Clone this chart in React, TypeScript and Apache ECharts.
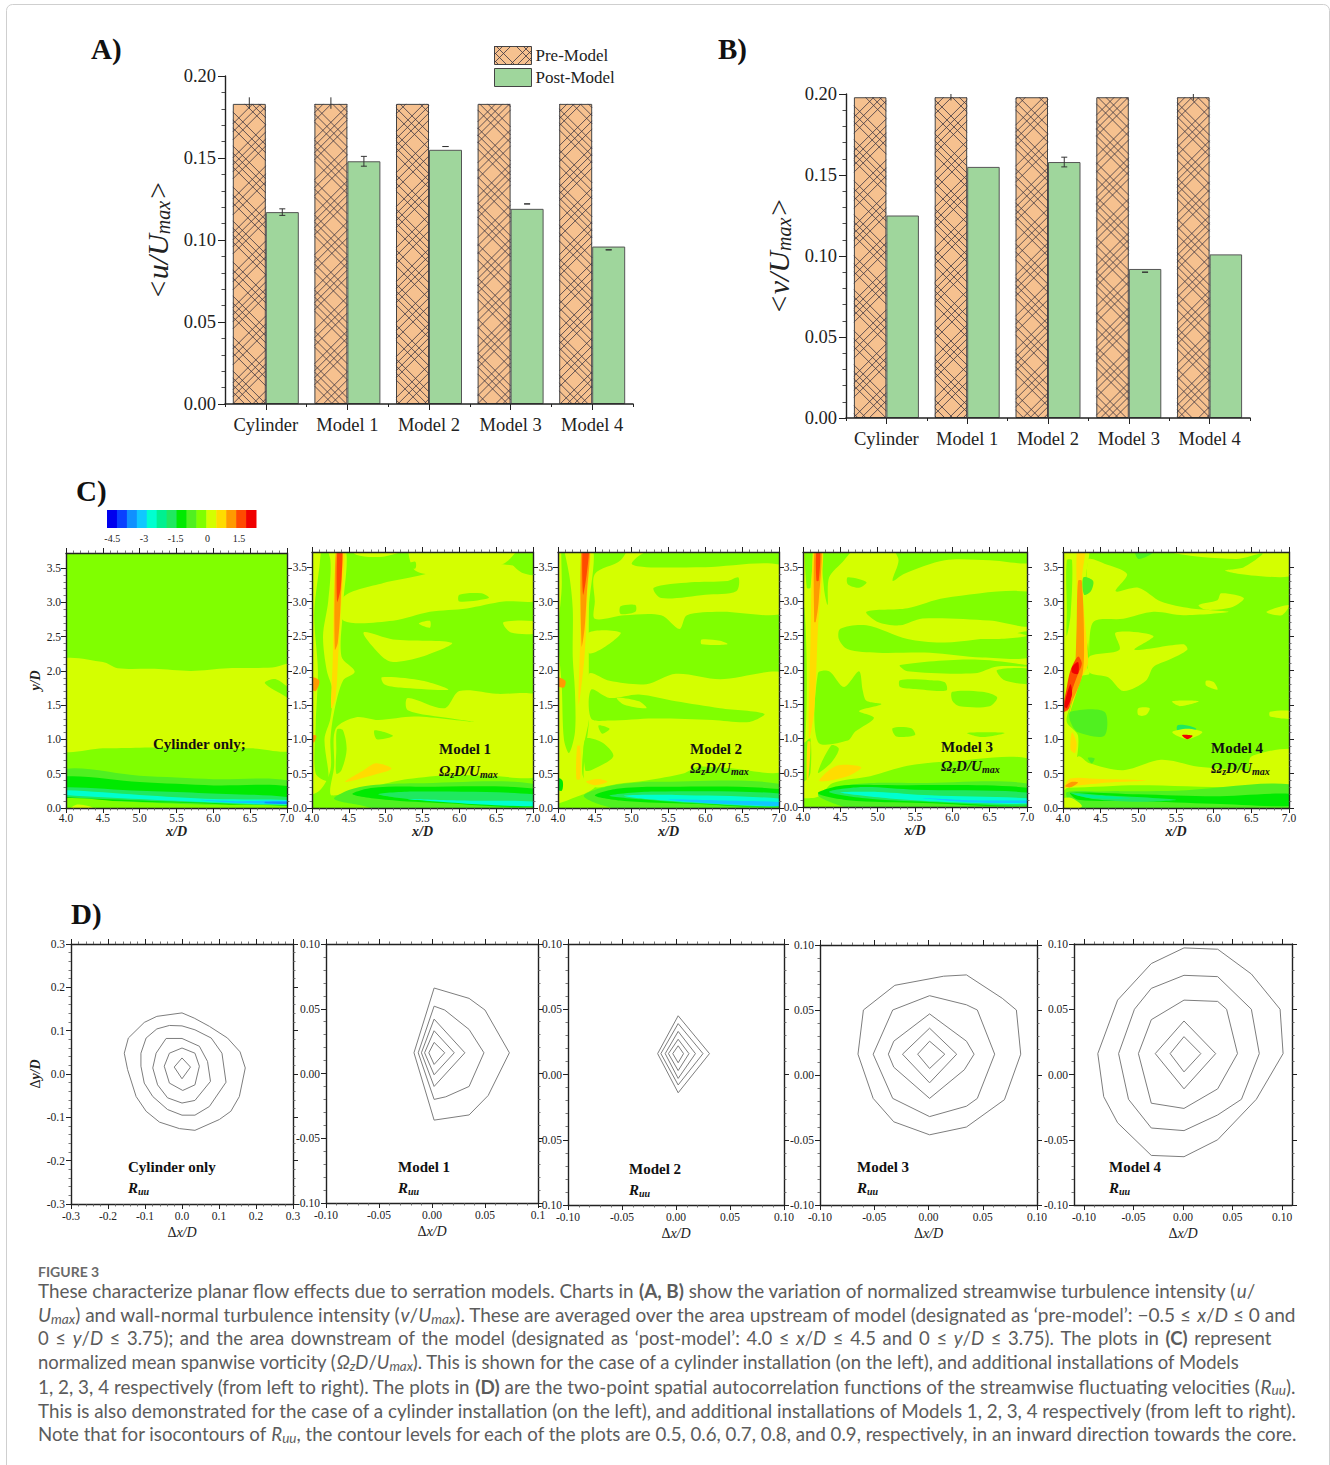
import React, { useEffect, useRef } from "react";
import * as echarts from "echarts";

const SERIF = "'Liberation Serif', serif";
const SANS = "Lato, 'Open Sans', sans-serif";

// ---------- Panels A and B ----------
const barCategories = ["Cylinder", "Model 1", "Model 2", "Model 3", "Model 4"];
const preModelU = [0.183, 0.183, 0.183, 0.183, 0.183];
const postModelU = [0.117, 0.148, 0.155, 0.119, 0.096];
const preModelV = [0.198, 0.198, 0.198, 0.198, 0.198];
const postModelV = [0.125, 0.155, 0.158, 0.092, 0.101];
const preErrU = [[0.18, 0.187], [0.18, 0.187], null, null, null];
const postErrU = [[0.115, 0.119], [0.145, 0.151], [0.157, 0.157], [0.122, 0.122], [0.094, 0.094]];
const preErrV = [null, [0.196, 0.2], null, null, [0.196, 0.2]];
const postErrV = [null, null, [0.155, 0.161], [0.09, 0.09], null];
const barTicks = [0, 0.05, 0.1, 0.15, 0.2];
const barMinor = [0.01, 0.02, 0.03, 0.04, 0.06, 0.07, 0.08, 0.09, 0.11, 0.12, 0.13, 0.14, 0.16, 0.17, 0.18, 0.19];

// ---------- Panel C: colour scale ----------
const scaleEdges = [-4.75, -4.28, -3.81, -3.34, -2.87, -2.4, -1.93, -1.46, -0.99, -0.52, -0.05, 0.42, 0.89, 1.36, 1.83, 2.3];
const scaleColors = ["#0000ee", "#0a40ff", "#1090ff", "#10c8ff", "#00ffd0", "#00f090", "#20e860", "#00ea00", "#50f020", "#80ff00", "#d4ff00", "#ffdc00", "#ff9a00", "#ff4a00", "#f00000"];
const scaleLabels = [-4.5, -3, -1.5, 0, 1.5];
const vortXTicks = [4, 4.5, 5, 5.5, 6, 6.5, 7];
const vortYTicks = [0, 0.5, 1, 1.5, 2, 2.5, 3, 3.5];

type Region = [number, number[][]];

const vortCylinder: Region[] = [
  [0.2, [[3.9, 2.13], [4.5, 2.13], [4.7, 2.04], [5.2, 2.03], [5.7, 2.0], [6.2, 2.04], [6.8, 2.05], [7.1, 2.1], [7.1, 1.72], [6.85, 1.88], [6.7, 1.82], [7.1, 1.5], [7.1, 0.86], [6.5, 0.87], [6, 0.85], [5.5, 0.88], [5, 0.88], [4.5, 0.87], [3.9, 0.87]]],
  [-0.8, [[3.9, 0.54], [5, 0.47], [6, 0.42], [7.1, 0.37], [7.1, -0.1], [3.9, -0.1]]],
  [-1.2, [[3.9, 0.45], [5, 0.38], [6, 0.33], [7.1, 0.3], [7.1, 0.03], [5.8, 0.07], [4.8, 0.1], [3.9, 0.16]]],
  [-1.7, [[3.9, 0.3], [5, 0.25], [5.8, 0.22], [7.1, 0.15], [7.1, 0.04], [5.8, 0.08], [4.8, 0.12], [3.9, 0.18]]],
  [-2.6, [[3.9, 0.26], [5, 0.19], [6, 0.13], [7.1, 0.11], [7.1, 0.05], [6, 0.08], [5, 0.13], [3.9, 0.2]]],
  [-3.1, [[5.8, 0.12], [6.3, 0.1], [7.1, 0.1], [7.1, 0.06], [6.3, 0.075]]],
  [-3.6, [[6.7, 0.09], [7.1, 0.09], [7.1, 0.06], [6.7, 0.07]]],
  [-0.3, [[3.9, 0.13], [4.8, 0.09], [5.8, 0.05], [7.1, 0.02], [7.1, -0.1], [3.9, -0.1]]],
  [0.2, [[4.05, -0.02], [4.15, 0.05], [4.3, 0.03], [4.4, -0.02]]],
];

const vortModel1: Region[] = [
  [0.2, [[3.9, 3.85], [4.43, 3.85], [4.42, 2.9], [4.4, 2.2], [4.58, 1.98], [4.42, 1.85], [4.3, 1.4], [4.25, 1.0], [4.25, 0.55], [4.1, 0.25], [3.9, 0.2]]],
  [0.2, [[4.32, 1.15], [4.6, 1.32], [4.9, 1.28], [5.4, 1.33], [6.2, 1.25], [5.9, 1.3], [5.3, 1.42], [5.3, 1.6], [5.8, 1.45], [6, 1.7], [6.5, 1.66], [7.1, 1.6], [7.1, 0.5], [6.4, 0.47], [5.9, 0.48], [5.3, 0.42], [4.9, 0.33], [4.6, 0.25], [4.4, 0.2], [4.25, 0.2], [4.3, 0.6]]],
  [0.2, [[4.43, 3.07], [4.97, 3.27], [5.38, 3.36], [5.95, 3.5], [6.5, 3.55], [7.1, 3.4], [7.1, 3.03], [6.6, 3.0], [6.1, 2.9], [5.6, 2.85], [5.1, 2.72], [4.43, 2.72]]],
  [0.2, [[4.5, 3.85], [5.5, 3.85], [5.0, 3.66], [4.6, 3.68]]],
  [0.2, [[5.35, 3.85], [6.8, 3.85], [6.6, 3.55], [5.9, 3.4], [5.4, 3.45]]],
  [0.2, [[4.7, 2.55], [5.1, 2.45], [5.9, 2.4], [5.5, 2.2], [5.1, 2.12], [4.95, 2.2]]],
  [0.2, [[4.95, 1.9], [5.5, 1.85], [5.85, 1.72], [5.2, 1.75], [4.98, 1.8]]],
  [0.2, [[5.45, 2.68], [5.6, 2.72], [5.6, 2.62]]],
  [0.2, [[6.6, 2.7], [7.1, 2.7], [7.1, 2.55], [6.7, 2.55]]],
  [-0.3, [[6, 3.0], [6.4, 3.05], [6.3, 3.12], [6, 3.1]]],
  [-0.3, [[6.7, 3.6], [7.1, 3.65], [7.1, 3.4], [6.85, 3.42]]],
  [-0.3, [[5.2, 3.5], [5.4, 3.58], [5.4, 3.48]]],
  [-0.3, [[4.34, 1.14], [4.42, 1.13], [4.47, 0.85], [4.4, 0.55], [4.33, 0.5], [4.33, 0.85]]],
  [-0.3, [[4.85, 1.13], [5.1, 1.05], [4.88, 1.0]]],
  [-0.3, [[4.15, 3.85], [4.25, 3.6], [4.22, 3.0], [4.15, 2.5], [4.2, 2.0], [4.28, 1.7], [4.25, 1.3], [4.17, 1.0], [4.22, 0.4], [4.05, 0.5], [4.05, 1.2], [4.08, 2.0], [4.03, 2.8], [4.1, 3.5]]],
  [0.6, [[4.26, 1.45], [4.28, 2.1], [4.33, 3.85], [4.44, 3.85], [4.4, 3], [4.36, 2.3], [4.32, 1.6]]],
  [1.1, [[4.31, 2.3], [4.31, 3.3], [4.34, 3.85], [4.41, 3.85], [4.39, 3], [4.35, 2.4]]],
  [1.6, [[4.34, 3.0], [4.35, 3.85], [4.41, 3.85], [4.39, 3.2]]],
  [1.1, [[3.98, 1.9], [4.1, 1.85], [4.05, 1.7], [3.98, 1.75]]],
  [1.1, [[3.98, 1.05], [4.06, 1.05], [4.02, 0.95]]],
  [0.6, [[4.45, 0.38], [4.7, 0.55], [4.87, 0.65], [5.08, 0.57], [4.8, 0.47]]],
  [-0.8, [[4.3, 0.13], [4.5, 0.26], [4.8, 0.33], [5.4, 0.36], [7.1, 0.33], [7.1, -0.1], [5.2, -0.1], [4.7, 0.03]]],
  [-1.2, [[4.55, 0.2], [4.8, 0.29], [5.4, 0.31], [7.1, 0.27], [7.1, 0.03], [5.8, 0.07], [5, 0.12]]],
  [-1.7, [[4.9, 0.2], [5.4, 0.24], [7.1, 0.19], [7.1, 0.04], [6, 0.08], [5.3, 0.13]]],
  [-2.6, [[5.3, 0.13], [6, 0.11], [7.1, 0.09], [7.1, 0.03], [6.3, 0.05]]],
];

const vortModel2: Region[] = [
  [0.2, [[3.9, 3.85], [4.45, 3.85], [4.42, 2.9], [4.42, 1.5], [4.42, 1.28], [4.35, 0.9], [4.33, 0.5], [4.4, 0.35], [4.5, 0.3], [4.3, 0.18], [3.9, 0.1]]],
  [0.2, [[4.45, 3.85], [4.95, 3.85], [4.85, 3.6], [4.5, 3.4], [4.5, 3], [4.5, 2.75], [4.9, 2.8], [5.4, 2.8], [5.65, 2.6], [5.75, 2.8], [6.2, 2.85], [7.1, 2.85], [7.1, 3.5], [6, 3.5], [5.2, 3.5], [5, 3.55], [5.2, 3.72], [6, 3.75], [5.9, 3.85]]],
  [-0.3, [[5.3, 3.2], [5.8, 3.28], [6.3, 3.3], [6.45, 3.35], [6.42, 3.15], [6, 3.1], [5.4, 3.05]]],
  [-0.3, [[4.85, 2.93], [5.05, 2.95], [5.05, 2.85], [4.85, 2.82]]],
  [0.2, [[4.42, 2.55], [4.85, 2.55], [4.65, 2.35], [4.42, 2.25]]],
  [0.2, [[5.95, 2.45], [6.2, 2.43], [6.3, 2.38], [5.95, 2.38]]],
  [0.2, [[4.42, 1.95], [4.7, 1.85], [5.2, 1.8], [5.6, 1.95], [6.2, 1.87], [7.1, 1.95], [7.1, 1.26], [7.1, 0.55], [6.3, 0.58], [5.9, 0.6], [5.7, 0.5], [5.2, 0.4], [4.8, 0.35], [4.5, 0.3], [4.35, 0.4], [4.42, 1.28]]],
  [-0.3, [[4.45, 1.72], [4.7, 1.6], [5.1, 1.65], [5.6, 1.55], [6.2, 1.45], [6.8, 1.37], [6.6, 1.25], [6.1, 1.28], [5.3, 1.3], [4.7, 1.27], [4.45, 1.3]]],
  [0.2, [[4.8, 1.6], [5.1, 1.55], [5.2, 1.45], [4.9, 1.5]]],
  [-0.3, [[4.37, 1.0], [4.6, 0.95], [4.75, 0.75], [4.45, 0.55], [4.37, 0.55]]],
  [-0.3, [[4.55, 1.2], [4.7, 1.15], [4.6, 1.08]]],
  [-0.3, [[4.05, 3.85], [4.15, 3.4], [4.2, 2.9], [4.2, 2.2], [4.23, 1.7], [4.23, 1.1], [4.15, 0.8], [4.08, 1.0], [4.05, 1.8], [4, 2.5], [4.05, 3.2]]],
  [0.6, [[4.28, 1.5], [4.3, 2.4], [4.33, 3.85], [4.44, 3.85], [4.4, 3.1], [4.36, 2.2]]],
  [0.6, [[4.25, 0.42], [4.26, 0.9], [4.3, 0.9], [4.3, 0.42]]],
  [1.1, [[4.32, 2.35], [4.32, 3.85], [4.43, 3.85], [4.39, 3.1], [4.36, 2.6]]],
  [1.6, [[4.34, 3.1], [4.34, 3.85], [4.42, 3.85], [4.39, 3.4]]],
  [0.6, [[4.38, 0.38], [4.55, 0.42], [4.67, 0.38], [4.5, 0.33]]],
  [1.1, [[3.98, 1.9], [4.1, 1.85], [4.08, 1.75], [3.98, 1.78]]],
  [-1.2, [[3.95, 0.45], [4.06, 0.4], [4.05, 0.25], [3.95, 0.3]]],
  [-0.8, [[4.35, 0.18], [4.7, 0.32], [5.3, 0.38], [7.1, 0.33], [7.1, -0.1], [5.2, -0.1], [4.6, 0.04]]],
  [-1.2, [[4.5, 0.18], [4.8, 0.28], [5.4, 0.31], [7.1, 0.26], [7.1, 0.03], [5.8, 0.06], [4.9, 0.1]]],
  [-1.7, [[4.7, 0.18], [5.3, 0.24], [7.1, 0.2], [7.1, 0.03], [6, 0.06], [5.2, 0.12]]],
  [-2.6, [[4.9, 0.18], [5.6, 0.19], [7.1, 0.13], [7.1, 0.03], [6, 0.07], [5.2, 0.13]]],
  [-3.1, [[5.5, 0.12], [6.2, 0.11], [7.1, 0.08], [7.1, 0.03], [6.2, 0.06]]],
];

const vortModel3: Region[] = [
  [-0.3, [[4.28, 3.85], [4.7, 3.85], [4.55, 3.6], [4.35, 3.35], [4.33, 2.95], [4.28, 3.2]]],
  [-0.3, [[4.6, 3.35], [4.85, 3.28], [4.75, 3.2], [4.6, 3.25]]],
  [-0.3, [[5.2, 3.85], [7.1, 3.85], [7.1, 3.57], [6.5, 3.6], [5.9, 3.6], [5.35, 3.4], [5.2, 3.3], [5.28, 3.6]]],
  [-0.3, [[4.85, 2.85], [5.4, 2.9], [5.9, 3.05], [7.1, 3.12], [7.1, 2.65], [6.5, 2.72], [5.6, 2.75], [5.3, 2.65], [5, 2.7]]],
  [-0.3, [[4.5, 2.6], [4.85, 2.65], [5.4, 2.45], [5.9, 2.4], [6.7, 2.5], [7.1, 2.55], [7.1, 2.2], [6.4, 2.18], [5.7, 2.25], [5, 2.25], [4.6, 2.3], [4.48, 2.45]]],
  [0.2, [[5.6, 2.65], [6.5, 2.6], [7, 2.5], [6.6, 2.45], [5.6, 2.5]]],
  [-0.3, [[5.3, 2.07], [6.3, 2.15], [7.1, 2.05], [6.6, 2.05], [6.3, 1.95], [5.4, 1.98]]],
  [-0.3, [[6.6, 2.0], [7.1, 2.0], [7.1, 1.8], [6.7, 1.85]]],
  [-0.3, [[5.3, 1.85], [5.7, 1.85], [5.9, 1.82], [5.92, 1.7], [5.5, 1.72], [5.3, 1.75]]],
  [-0.3, [[6.0, 1.68], [6.4, 1.68], [6.6, 1.6], [6.5, 1.47], [6.1, 1.47], [6, 1.55]]],
  [-0.3, [[4.2, 1.95], [4.35, 1.98], [4.55, 1.75], [4.75, 1.98], [4.8, 1.7], [4.85, 1.55], [5.05, 1.5], [4.75, 1.4], [4.95, 1.3], [4.7, 1.1], [4.6, 0.97], [4.2, 0.95]]],
  [-0.3, [[4.03, 3.85], [4.12, 3.85], [4.1, 3.2], [4.05, 3.2]]],
  [-0.3, [[4.03, 0.95], [4.1, 1], [4.1, 0.5], [4.05, 0.4], [3.95, 0.35], [3.95, 0.9]]],
  [-0.3, [[3.9, 2.9], [4.02, 2.9], [4.03, 1], [3.9, 1]]],
  [-0.3, [[5.2, 1.15], [5.45, 1.15], [5.5, 1.05], [5.25, 1.03]]],
  [-0.3, [[4.38, 0.9], [4.48, 0.85], [4.38, 0.65], [4.2, 0.5]]],
  [-0.3, [[6.2, 1.08], [6.7, 1.08], [6.4, 1.02]]],
  [-0.3, [[4.4, 0.35], [4.9, 0.45], [5.4, 0.6], [5.9, 0.66], [7.1, 0.67], [7.1, -0.1], [3.9, -0.1], [3.9, 0.1], [4.2, 0.15]]],
  [-0.8, [[4.2, 0.18], [4.5, 0.3], [4.9, 0.35], [5.5, 0.35], [7.1, 0.32], [7.1, -0.1], [5, -0.1], [4.5, 0.02]]],
  [-1.2, [[4.2, 0.2], [4.5, 0.31], [5, 0.32], [7.1, 0.27], [7.1, 0.03], [5.6, 0.06], [4.6, 0.1]]],
  [-1.7, [[4.35, 0.22], [4.8, 0.29], [5.5, 0.25], [7.1, 0.2], [7.1, 0.03], [5.8, 0.07], [4.9, 0.12]]],
  [-2.6, [[4.5, 0.21], [5, 0.22], [5.7, 0.17], [7.1, 0.12], [7.1, 0.05], [6, 0.07], [5.2, 0.12]]],
  [-3.1, [[5.6, 0.13], [6.2, 0.1], [7.1, 0.09], [7.1, 0.06], [6.2, 0.07]]],
  [0.6, [[4.08, 1.0], [4.1, 2.4], [4.15, 3.85], [4.27, 3.85], [4.2, 2.6], [4.15, 1.4]]],
  [0.6, [[4.05, 0.4], [4.06, 0.95], [4.1, 0.95], [4.07, 0.4]]],
  [1.1, [[4.15, 2.7], [4.16, 3.85], [4.25, 3.85], [4.21, 3], [4.17, 2.7]]],
  [1.6, [[4.18, 3.3], [4.18, 3.75], [4.23, 3.75], [4.21, 3.3]]],
  [0.6, [[4.22, 0.38], [4.45, 0.6], [4.78, 0.58], [4.6, 0.45]]],
];

const vortModel4: Region[] = [
  [0.2, [[3.9, 3.85], [4.33, 3.85], [4.3, 3.3], [4.35, 2.6], [4.3, 2.1], [4.35, 1.95], [4.2, 1.9], [4.1, 1.5], [4.05, 1.25], [4.2, 1.05], [4.15, 0.5], [4.1, 0.35], [3.9, 0.2]]],
  [-0.3, [[4.05, 3.6], [4.12, 3.6], [4.1, 2.8], [4.05, 2.5], [4.05, 2.9]]],
  [0.2, [[4.33, 3.6], [4.55, 3.55], [4.85, 3.4], [4.7, 3.15], [5.0, 3.2], [5.3, 3.0], [5.7, 2.9], [6.2, 2.85], [5.6, 2.8], [5.2, 2.85], [4.8, 2.75], [4.4, 2.7], [4.35, 2.2]]],
  [0.2, [[4.7, 2.55], [5.2, 2.5], [4.95, 2.3], [5.6, 2.38], [5.65, 2.3], [5.4, 2.15], [5.2, 2.05], [5.1, 1.85], [4.8, 1.7], [4.6, 1.9], [4.35, 1.97], [4.35, 2.2], [4.75, 2.3]]],
  [0.2, [[5.4, 3.72], [6.3, 3.62], [6.65, 3.7], [6.4, 3.5], [6.15, 3.45], [6.5, 3.38], [7.1, 3.4], [7.1, 3.85], [5.4, 3.85]]],
  [0.2, [[5.8, 2.95], [6.05, 3.02], [6.1, 3.12], [6.4, 3.05], [6.25, 2.92], [5.9, 2.88]]],
  [0.2, [[6.7, 2.85], [7, 2.95], [6.9, 2.8]]],
  [0.2, [[5.45, 1.55], [5.8, 1.55], [5.55, 1.48]]],
  [0.2, [[5.0, 1.45], [5.15, 1.45], [5.1, 1.35], [5, 1.35]]],
  [0.2, [[6.75, 1.4], [7.1, 1.4], [7.1, 1.3], [6.75, 1.33]]],
  [0.2, [[6.5, 0.75], [7.1, 0.85], [7.1, 0.55], [6.5, 0.55]]],
  [0.2, [[5.9, 1.85], [6, 1.83], [6.05, 1.72], [5.9, 1.78]]],
  [0.2, [[3.9, 0.4], [4.2, 0.75], [4.35, 0.65], [4.8, 0.55], [5.3, 0.7], [5.8, 0.6], [6.4, 0.55], [7.1, 0.5], [7.1, 0.33], [6.3, 0.3], [5, 0.33], [3.9, 0.3]]],
  [0.6, [[4.1, 1.45], [4.2, 1.9], [4.22, 2.6], [4.18, 3.3], [4.2, 3.85], [4.3, 3.85], [4.25, 3.3], [4.3, 2.6], [4.33, 2.1], [4.25, 1.9], [4.08, 1.35]]],
  [0.6, [[4.1, 0.85], [4.12, 1.1], [4.18, 0.95], [4.16, 0.8]]],
  [1.1, [[4.05, 1.4], [4.15, 1.9], [4.18, 2.6], [4.2, 3.3], [4.25, 3.3], [4.28, 2.3], [4.25, 1.9], [4.1, 1.5]]],
  [1.6, [[4, 1.4], [4.05, 1.75], [4.1, 2], [4.2, 2.2], [4.25, 2.1], [4.2, 1.95], [4.12, 1.7], [4.08, 1.45]]],
  [2.0, [[4.02, 1.48], [4.05, 1.65], [4.1, 1.8], [4.12, 1.65], [4.05, 1.45]]],
  [2.0, [[4.12, 2.05], [4.2, 2.12], [4.2, 1.95], [4.12, 1.97]]],
  [0.6, [[4.02, 0.3], [4.1, 0.43], [4.5, 0.42], [5.1, 0.4], [4.6, 0.37], [4.15, 0.32]]],
  [1.1, [[4.03, 0.32], [4.12, 0.38], [4.2, 0.37], [4.1, 0.3]]],
  [-0.8, [[4.27, 3.35], [4.4, 3.3], [4.37, 3.15], [4.28, 3.1]]],
  [-0.8, [[4.95, 3.8], [5.2, 3.72], [5, 3.62]]],
  [-0.8, [[4.1, 1.4], [4.55, 1.4], [4.55, 1.05], [4.2, 1.1], [4.1, 1.25]]],
  [-0.8, [[4.33, 0.73], [4.42, 0.72], [4.38, 0.65]]],
  [-1.7, [[5.52, 1.2], [5.65, 1.2], [5.77, 1.15], [5.65, 1.08], [5.52, 1.12]]],
  [0.2, [[5.45, 1.1], [5.65, 1.0], [5.85, 1.1], [5.65, 1.15]]],
  [2.0, [[5.58, 1.06], [5.65, 1.0], [5.72, 1.05]]],
  [-0.8, [[4.05, 0.23], [4.5, 0.24], [5.5, 0.25], [7.1, 0.33], [7.1, -0.1], [3.9, -0.1], [4.05, 0.1]]],
  [-1.2, [[4.1, 0.22], [5, 0.2], [6, 0.17], [7.1, 0.2], [7.1, 0.04], [6, 0.06], [5, 0.1], [4.2, 0.12]]],
  [-1.7, [[4.1, 0.22], [4.6, 0.18], [5.5, 0.12], [5, 0.09], [4.4, 0.13]]],
  [-2.4, [[4.15, 0.2], [4.6, 0.17], [4.9, 0.14], [4.4, 0.14]]],
  [0.2, [[3.9, 0.1], [4.1, 0.15], [4.25, 0.02], [3.9, -0.1]]],
];

// ---------- Panel D: R_uu iso-contours (levels 0.5 ... 0.9, outside to core) ----------
const rMajor3 = [-0.3, -0.2, -0.1, 0, 0.1, 0.2, 0.3];
const rMajor1 = [-0.1, -0.05, 0, 0.05, 0.1];

const rCylinder = [
  [[0, 0.141], [-0.068, 0.133], [-0.102, 0.119], [-0.145, 0.083], [-0.156, 0.048], [-0.147, 0.01], [-0.124, -0.052], [-0.097, -0.086], [-0.061, -0.111], [-0.007, -0.126], [0.035, -0.13], [0.101, -0.105], [0.132, -0.086], [0.155, -0.052], [0.171, 0.014], [0.157, 0.051], [0.123, 0.083], [0.074, 0.11], [0.033, 0.129]],
  [[-0.034, 0.112], [-0.068, 0.104], [-0.097, 0.083], [-0.111, 0.048], [-0.111, 0.018], [-0.102, -0.021], [-0.079, -0.052], [-0.039, -0.082], [0, -0.095], [0.035, -0.095], [0.074, -0.075], [0.119, -0.019], [0.108, 0.048], [0.079, 0.083], [0.035, 0.102], [0, 0.111]],
  [[-0.043, 0.082], [-0.07, 0.048], [-0.079, 0.014], [-0.066, -0.025], [-0.039, -0.055], [0, -0.067], [0.035, -0.061], [0.077, -0.017], [0.069, 0.029], [0.047, 0.064], [0, 0.082]],
  [[0, 0.06], [-0.034, 0.048], [-0.048, 0.018], [-0.034, -0.021], [0.002, -0.038], [0.035, -0.025], [0.047, 0.018], [0.035, 0.048]],
  [[0, 0.037], [-0.021, 0.016], [0, -0.011], [0.023, 0.016]],
];
const rModel1 = [
  [[0.002, 0.066], [0.035, 0.058], [0.05, 0.049], [0.073, 0.016], [0.053, -0.017], [0.035, -0.032], [0.002, -0.036], [-0.017, 0.016]],
  [[0.002, 0.052], [0.012, 0.049], [0.035, 0.034], [0.049, 0.016], [0.035, -0.01], [0.013, -0.018], [0.002, -0.02], [-0.013, 0.016]],
  [[0.002, 0.042], [0.031, 0.016], [0.002, -0.01], [-0.01, 0.016]],
  [[0.002, 0.033], [0.021, 0.016], [0.002, -0.001], [-0.007, 0.016]],
  [[0.002, 0.024], [0.012, 0.016], [0.002, 0.007], [-0.003, 0.016]],
];
const rModel2 = [
  [[0.002, 0.045], [0.031, 0.016], [0.002, -0.014], [-0.017, 0.016]],
  [[0.002, 0.039], [0.025, 0.016], [0.002, -0.008], [-0.014, 0.016]],
  [[0.002, 0.033], [0.018, 0.016], [0.002, -0.003], [-0.01, 0.016]],
  [[0.002, 0.027], [0.012, 0.016], [0.002, 0.003], [-0.007, 0.016]],
  [[0.002, 0.022], [0.007, 0.016], [0.002, 0.009], [-0.003, 0.016]],
];
const rModel3 = [
  [[-0.06, 0.05], [-0.031, 0.069], [0.014, 0.076], [0.035, 0.077], [0.068, 0.059], [0.081, 0.05], [0.085, 0.016], [0.07, -0.019], [0.035, -0.04], [0.001, -0.046], [-0.032, -0.036], [-0.051, -0.018], [-0.065, 0.016]],
  [[0.001, 0.061], [0.035, 0.054], [0.045, 0.05], [0.061, 0.016], [0.045, -0.018], [0.035, -0.024], [0.001, -0.032], [-0.033, -0.018], [-0.051, 0.016], [-0.033, 0.05]],
  [[0.001, 0.047], [0.035, 0.026], [0.042, 0.016], [0.033, 0.004], [0.001, -0.018], [-0.032, 0.006], [-0.037, 0.016], [-0.032, 0.026]],
  [[0.001, 0.036], [0.026, 0.016], [0.001, -0.006], [-0.024, 0.016]],
  [[0.001, 0.026], [0.015, 0.016], [0.001, 0.005], [-0.01, 0.016]],
];
const rModel4 = [
  [[0.001, 0.097], [0.035, 0.096], [0.069, 0.077], [0.098, 0.05], [0.101, 0.016], [0.074, -0.019], [0.035, -0.05], [0.001, -0.063], [-0.032, -0.062], [-0.066, -0.037], [-0.08, -0.017], [-0.086, 0.016], [-0.066, 0.057], [-0.032, 0.085]],
  [[0.001, 0.076], [0.035, 0.075], [0.069, 0.05], [0.077, 0.016], [0.059, -0.019], [0.035, -0.031], [0.001, -0.043], [-0.032, -0.041], [-0.055, -0.019], [-0.065, 0.016], [-0.049, 0.05], [-0.032, 0.066]],
  [[0.001, 0.057], [0.035, 0.056], [0.044, 0.05], [0.055, 0.016], [0.035, -0.011], [0.001, -0.026], [-0.032, -0.022], [-0.045, 0.016], [-0.032, 0.042]],
  [[0.001, 0.041], [0.033, 0.016], [0.001, -0.011], [-0.028, 0.016]],
  [[0.001, 0.029], [0.018, 0.016], [0.001, 0.002], [-0.013, 0.016]],
];

// ---------- Caption ----------
const captionTitle = "FIGURE 3";
const captionLines = [
  "These characterize planar flow effects due to serration models. Charts in {b|(A, B)} show the variation of normalized streamwise turbulence intensity ({i|u}/",
  "{i|U}{s|max}) and wall-normal turbulence intensity ({i|v}/{i|U}{s|max}). These are averaged over the area upstream of model (designated as ‘pre-model’: −0.5 ≤ {i|x}/{i|D} ≤ 0 and",
  "0 ≤ {i|y}/{i|D} ≤ 3.75); and the area downstream of the model (designated as ‘post-model’: 4.0 ≤ {i|x}/{i|D} ≤ 4.5 and 0 ≤ {i|y}/{i|D} ≤ 3.75). The plots in {b|(C)} represent",
  "normalized mean spanwise vorticity ({i|Ω}{s|z}{i|D}/{i|U}{s|max}). This is shown for the case of a cylinder installation (on the left), and additional installations of Models",
  "1, 2, 3, 4 respectively (from left to right). The plots in {b|(D)} are the two-point spatial autocorrelation functions of the streamwise fluctuating velocities ({i|R}{s|uu}).",
  "This is also demonstrated for the case of a cylinder installation (on the left), and additional installations of Models 1, 2, 3, 4 respectively (from left to right).",
  "Note that for isocontours of {i|R}{s|uu}, the contour levels for each of the plots are 0.5, 0.6, 0.7, 0.8, and 0.9, respectively, in an inward direction towards the core.",
];

// ---------- helpers ----------
const CAPTION_SIZES = [18.83, 19.05, 18.5, 18.47, 18.88, 18.77, 18.66];
const HATCH_STEPS = [7, 7, 7, 20, 8, 8, 18];
const INK = "#222";

function hatchLines(x0: number, y0: number, x1: number, y1: number, seed: number) {
  const out: any[] = [];
  let k = seed;
  for (let c = y0 - x1 + (seed % 5); c < y1 - x0; c += HATCH_STEPS[k++ % HATCH_STEPS.length]) {
    const a = Math.max(x0, y0 - c);
    const b = Math.min(x1, y1 - c);
    if (b > a) out.push([a, a + c, b, b + c]);
  }
  k = seed + 3;
  for (let c = y0 + x0 + (seed % 3); c < y1 + x1; c += HATCH_STEPS[k++ % HATCH_STEPS.length]) {
    const a = Math.max(x0, c - y1);
    const b = Math.min(x1, c - y0);
    if (b > a) out.push([a, c - a, b, c - b]);
  }
  return out;
}

function colorOf(level: number) {
  for (let i = 0; i < scaleColors.length; i++) {
    if (level >= scaleEdges[i] && level < scaleEdges[i + 1]) return scaleColors[i];
  }
  return scaleColors[scaleColors.length - 1];
}

function between(majors: number[], parts: number) {
  const out: number[] = [];
  for (let i = 0; i + 1 < majors.length; i++) {
    for (let j = 1; j < parts; j++) {
      out.push(+(majors[i] + ((majors[i + 1] - majors[i]) * j) / parts).toFixed(4));
    }
  }
  return out;
}

function baseAxis(gridIndex: number, position: string, min: number, max: number) {
  return {
    type: "value",
    gridIndex,
    position,
    min,
    max,
    z: 5,
    splitLine: { show: false },
    axisLine: { show: false, onZero: false },
    axisTick: { show: false },
    axisLabel: { show: false },
  };
}

function addFrameAxes(option: any, cfg: any) {
  const { gridIndex: g, xRange, yRange, xMajor, yMajor, xParts, yParts, xFormat, yFormat, fontSize, xMargin, yMargin, xName, yName } = cfg;
  const line = { show: true, onZero: false, lineStyle: { color: INK, width: 1.4 } };
  const major = (vals: number[]) => ({ show: true, customValues: vals, length: 5, lineStyle: { color: INK, width: 1 } });
  const minor = (vals: number[]) => ({ show: true, customValues: vals, length: 2.5, lineStyle: { color: "#555", width: 0.8 } });
  const label = (vals: number[], fmt: any, margin: number) => ({
    show: true, customValues: vals, formatter: fmt, margin, color: INK, fontFamily: SERIF, fontSize,
  });
  const xIndex = option.xAxis.length;
  option.xAxis.push({
    ...baseAxis(g, "bottom", xRange[0], xRange[1]),
    axisLine: line, axisTick: major(xMajor), axisLabel: label(xMajor, xFormat, xMargin),
    name: xName?.text, nameLocation: "middle", nameGap: xName?.gap, nameTextStyle: xName?.style,
  });
  option.xAxis.push({ ...baseAxis(g, "bottom", xRange[0], xRange[1]), axisTick: minor(between(xMajor, xParts)) });
  option.xAxis.push({ ...baseAxis(g, "top", xRange[0], xRange[1]), axisLine: line, axisTick: major(xMajor) });
  option.xAxis.push({ ...baseAxis(g, "top", xRange[0], xRange[1]), axisTick: minor(between(xMajor, xParts)) });
  const yIndex = option.yAxis.length;
  option.yAxis.push({
    ...baseAxis(g, "left", yRange[0], yRange[1]),
    axisLine: line, axisTick: major(yMajor), axisLabel: label(yMajor, yFormat, yMargin),
    name: yName?.text, nameLocation: "middle", nameGap: yName?.gap, nameRotate: 90, nameTextStyle: yName?.style,
  });
  option.yAxis.push({ ...baseAxis(g, "left", yRange[0], yRange[1]), axisTick: minor(between(yMajor, yParts)) });
  option.yAxis.push({ ...baseAxis(g, "right", yRange[0], yRange[1]), axisLine: line, axisTick: major(yMajor) });
  option.yAxis.push({ ...baseAxis(g, "right", yRange[0], yRange[1]), axisTick: minor(between(yMajor, yParts)) });
  return { xIndex, yIndex };
}

function addBarPanel(option: any, cfg: any) {
  const g = option.grid.length;
  option.grid.push(cfg.grid);
  const xIndex = option.xAxis.length;
  option.xAxis.push({
    type: "category", gridIndex: g, data: barCategories, position: "bottom", z: 5,
    axisLine: { show: true, onZero: false, lineStyle: { color: INK, width: 1.6 } },
    axisTick: { show: true, length: 3, lineStyle: { color: INK } },
    axisLabel: { color: INK, fontFamily: SERIF, fontSize: 18.5, margin: 11, interval: 0 },
  });
  option.xAxis.push({
    type: "category", gridIndex: g, data: barCategories, position: "bottom", z: 5,
    axisLine: { show: false, onZero: false },
    axisTick: { show: true, alignWithLabel: true, length: 6, lineStyle: { color: INK } },
    axisLabel: { show: false },
  });
  const yIndex = option.yAxis.length;
  option.yAxis.push({
    type: "value", gridIndex: g, position: "left", min: 0, max: 0.2, z: 5, splitLine: { show: false },
    axisLine: { show: true, onZero: false, lineStyle: { color: INK, width: 1.4 } },
    axisTick: { show: true, customValues: barTicks, length: 7, lineStyle: { color: INK } },
    axisLabel: { customValues: barTicks, formatter: (v: number) => v.toFixed(2), color: INK, fontFamily: SERIF, fontSize: 18.5, margin: 9 },
    name: cfg.yName, nameLocation: "middle", nameGap: 52, nameRotate: 90,
    nameTextStyle: {
      rich: {
        m: { fontFamily: SERIF, fontStyle: "italic", fontSize: 30, color: INK },
        s: { fontFamily: SERIF, fontStyle: "italic", fontSize: 20, color: INK, verticalAlign: "bottom", padding: [12, 0, 0, 0] },
      },
    },
  });
  option.yAxis.push({
    type: "value", gridIndex: g, position: "left", min: 0, max: 0.2, splitLine: { show: false }, z: 5,
    axisLine: { show: false, onZero: false },
    axisTick: { show: true, customValues: barMinor, length: 3.5, lineStyle: { color: INK, width: 0.8 } },
    axisLabel: { show: false },
  });
  const W = cfg.barWidth;
  option.series.push({
    type: "bar", name: "Pre-Model", xAxisIndex: xIndex, yAxisIndex: yIndex, data: cfg.pre, barWidth: W, barGap: 0, z: 2,
    itemStyle: { color: "#f6c18f", borderColor: "#444", borderWidth: 1 }, silent: true,
  });
  option.series.push({
    type: "bar", name: "Post-Model", xAxisIndex: xIndex, yAxisIndex: yIndex, data: cfg.post, barWidth: W, barGap: 0, z: 2,
    itemStyle: { color: "#9fd69c", borderColor: "#555", borderWidth: 1 }, silent: true,
  });
  option.series.push({
    type: "custom", name: "hatch", xAxisIndex: xIndex, yAxisIndex: yIndex, z: 3, silent: true,
    data: cfg.pre.map((v: number, i: number) => [i, v]),
    renderItem: (_p: any, api: any) => {
      const top = api.coord([api.value(0), api.value(1)]);
      const base = api.coord([api.value(0), 0]);
      const lines = hatchLines(top[0] - W, top[1], top[0], base[1], api.value(0));
      return {
        type: "group",
        children: lines.map((l) => ({
          type: "line",
          shape: { x1: l[0], y1: l[1], x2: l[2], y2: l[3] },
          style: { stroke: "#3c3540", lineWidth: 0.8 },
        })),
      };
    },
  });
  const errSeries = (name: string, errs: any[], side: number, cap: number) => ({
    type: "custom", name, xAxisIndex: xIndex, yAxisIndex: yIndex, z: 4, silent: true,
    data: errs.map((e, i) => (e ? [i, e[0], e[1]] : null)).filter(Boolean),
    renderItem: (_p: any, api: any) => {
      const lo = api.coord([api.value(0), api.value(1)]);
      const hi = api.coord([api.value(0), api.value(2)]);
      const x = lo[0] + (side * W) / 2;
      const seg = (x1: number, y1: number, x2: number, y2: number) => ({
        type: "line", shape: { x1, y1, x2, y2 }, style: { stroke: "#333", lineWidth: 1 },
      });
      const kids: any[] = [seg(x, lo[1], x, hi[1])];
      if (cap) { kids.push(seg(x - cap, lo[1], x + cap, lo[1]), seg(x - cap, hi[1], x + cap, hi[1])); }
      return { type: "group", children: kids };
    },
  });
  option.series.push(errSeries("pre error", cfg.preErr, -1, 0));
  option.series.push(errSeries("post error", cfg.postErr, 1, 3));
}

function addVorticityPanel(option: any, cfg: any) {
  const g = option.grid.length;
  option.grid.push({ ...cfg.grid, show: true, backgroundColor: colorOf(cfg.base), borderWidth: 0 });
  const { xIndex, yIndex } = addFrameAxes(option, {
    gridIndex: g, xRange: [4, 7], yRange: [0, 3.72], xMajor: vortXTicks, yMajor: vortYTicks, xParts: 5, yParts: 5,
    xFormat: (v: number) => v.toFixed(1), yFormat: (v: number) => v.toFixed(1), fontSize: 11.5, xMargin: 4, yMargin: 5,
    xName: { text: "x/D", gap: 14, style: { fontFamily: SERIF, fontStyle: "italic", fontWeight: "bold", fontSize: 14, color: INK } },
    yName: cfg.yName ? { text: cfg.yName, gap: 13, style: { fontFamily: SERIF, fontStyle: "italic", fontWeight: "bold", fontSize: 14, color: INK } } : undefined,
  });
  const regions: Region[] = cfg.regions;
  option.series.push({
    type: "custom", name: cfg.name, xAxisIndex: xIndex, yAxisIndex: yIndex, clip: true, silent: true, z: 2,
    data: regions.map((_r, i) => [i]),
    encode: { x: 0 },
    renderItem: (_p: any, api: any) => {
      const r = regions[api.value(0)];
      return {
        type: "polygon",
        shape: { points: r[1].map((q) => api.coord(q)), smooth: 0.3 },
        style: { fill: colorOf(r[0]) },
      };
    },
  });
}

function addContourPanel(option: any, cfg: any) {
  const g = option.grid.length;
  option.grid.push(cfg.grid);
  const deltaStyle = { fontFamily: SERIF, fontSize: 14, color: INK };
  const { xIndex, yIndex } = addFrameAxes(option, {
    gridIndex: g, xRange: cfg.xRange, yRange: cfg.yRange, xMajor: cfg.major, yMajor: cfg.major, xParts: 5, yParts: 5,
    xFormat: cfg.xFormat, yFormat: cfg.yFormat, fontSize: 11.5, xMargin: 6, yMargin: 6,
    xName: { text: "{a|Δ}{b|x/D}", gap: 21, style: { rich: { a: deltaStyle, b: { ...deltaStyle, fontStyle: "italic" } } } },
    yName: cfg.yName ? { text: "{a|Δ}{b|y/D}", gap: 19, style: { rich: { a: deltaStyle, b: { ...deltaStyle, fontStyle: "italic", fontWeight: "bold" } } } } : undefined,
  });
  cfg.contours.forEach((c: number[][], i: number) => {
    option.series.push({
      type: "line", name: `${cfg.name} level ${i}`, xAxisIndex: xIndex, yAxisIndex: yIndex, silent: true,
      data: [...c, c[0]], symbol: "none", smooth: false,
      lineStyle: { color: "#7d7d7d", width: 1 },
    });
  });
}

function panelText(x: number, y: number, text: string, style: any) {
  return { type: "text", x, y, z: 20, style: { text, verticalAlign: "middle", align: "left", ...style } };
}

function buildOption() {
  const option: any = {
    animation: false,
    backgroundColor: "#fff",
    grid: [],
    xAxis: [],
    yAxis: [],
    series: [],
    legend: {
      left: 494, top: 46, orient: "vertical", icon: "rect", itemWidth: 37, itemHeight: 18, itemGap: 3, padding: 0, selectedMode: false,
      data: ["Pre-Model", "Post-Model"], itemStyle: { borderColor: "#444", borderWidth: 1 },
      textStyle: { fontFamily: SERIF, fontSize: 17, color: INK, padding: [0, 0, 0, -1] },
    },
  };

  addBarPanel(option, {
    grid: { left: 225, top: 76, width: 408, height: 328 },
    pre: preModelU, post: postModelU, preErr: preErrU, postErr: postErrU, barWidth: 33,
    yName: "{m|<u/U}{s|max}{m|>}",
  });
  addBarPanel(option, {
    grid: { left: 846, top: 94, width: 404, height: 324 },
    pre: preModelV, post: postModelV, preErr: preErrV, postErr: postErrV, barWidth: 32.5,
    yName: "{m|<v/U}{s|max}{m|>}",
  });

  // colour bar
  const sg = option.grid.length;
  option.grid.push({ left: 107, top: 510, width: 149, height: 18 });
  option.xAxis.push({
    type: "value", gridIndex: sg, min: scaleEdges[0], max: scaleEdges[scaleEdges.length - 1], position: "bottom",
    splitLine: { show: false }, axisLine: { show: false, onZero: false }, axisTick: { show: false },
    axisLabel: { customValues: scaleLabels, formatter: (v: number) => String(v), color: INK, fontFamily: SERIF, fontSize: 10, margin: 5 },
  });
  option.yAxis.push({ type: "value", gridIndex: sg, min: 0, max: 1, show: false });
  option.series.push({
    type: "custom", name: "colour scale", xAxisIndex: option.xAxis.length - 1, yAxisIndex: option.yAxis.length - 1, silent: true,
    data: scaleColors.map((_c, i) => [scaleEdges[i], scaleEdges[i + 1]]),
    renderItem: (p: any, api: any) => {
      const a = api.coord([api.value(0), 1]);
      const b = api.coord([api.value(1), 0]);
      return { type: "rect", shape: { x: a[0], y: a[1], width: b[0] - a[0] + 0.5, height: b[1] - a[1] }, style: { fill: scaleColors[p.dataIndex] } };
    },
  });

  const vortPanels = [
    { name: "Cylinder vorticity", regions: vortCylinder, base: -0.3, grid: { left: 66, top: 553, width: 221, height: 255 }, yName: "y/D" },
    { name: "Model 1 vorticity", regions: vortModel1, base: -0.3, grid: { left: 312, top: 552, width: 221, height: 256 } },
    { name: "Model 2 vorticity", regions: vortModel2, base: -0.3, grid: { left: 558, top: 552, width: 221, height: 256 } },
    { name: "Model 3 vorticity", regions: vortModel3, base: 0.2, grid: { left: 803, top: 552, width: 224, height: 255 } },
    { name: "Model 4 vorticity", regions: vortModel4, base: -0.3, grid: { left: 1063, top: 552, width: 226, height: 256 } },
  ];
  vortPanels.forEach((p) => addVorticityPanel(option, p));

  const fmt1 = (v: number) => v.toFixed(1);
  const fmt2 = (v: number) => v.toFixed(2);
  const fmtD1x = (v: number) => (v === 0.1 ? "0.1" : v.toFixed(2));
  const contourPanels = [
    { name: "Cylinder", contours: rCylinder, grid: { left: 71, top: 944, width: 222, height: 260 }, xRange: [-0.3, 0.3], yRange: [-0.3, 0.3], major: rMajor3, xFormat: fmt1, yFormat: fmt1, yName: true },
    { name: "Model 1", contours: rModel1, grid: { left: 326, top: 944, width: 212, height: 259 }, xRange: [-0.1, 0.1], yRange: [-0.1, 0.1], major: rMajor1, xFormat: fmtD1x, yFormat: fmt2 },
    { name: "Model 2", contours: rModel2, grid: { left: 568, top: 944, width: 216, height: 261 }, xRange: [-0.1, 0.1], yRange: [-0.1, 0.1], major: rMajor1, xFormat: fmt2, yFormat: fmt2 },
    { name: "Model 3", contours: rModel3, grid: { left: 820, top: 945, width: 217, height: 260 }, xRange: [-0.1, 0.1], yRange: [-0.1, 0.1], major: rMajor1, xFormat: fmt2, yFormat: fmt2 },
    { name: "Model 4", contours: rModel4, grid: { left: 1074, top: 944, width: 218, height: 261 }, xRange: [-0.11, 0.11], yRange: [-0.1, 0.1], major: rMajor1, xFormat: fmt2, yFormat: fmt2 },
  ];
  contourPanels.forEach((p) => addContourPanel(option, p));

  // graphic: panel letters, annotations, caption, frame
  const letter = { fontFamily: SERIF, fontWeight: "bold", fontSize: 29, fill: "#111" };
  const bold14 = { fontFamily: SERIF, fontWeight: "bold", fontSize: 15, fill: "#111" };
  const omegaRich = {
    m: { fontFamily: SERIF, fontWeight: "bold", fontStyle: "italic", fontSize: 15, fill: "#111" },
    s: { fontFamily: SERIF, fontWeight: "bold", fontStyle: "italic", fontSize: 10, fill: "#111", verticalAlign: "bottom", padding: [6, 0, 0, 0] },
  };
  const rRich = omegaRich;
  const omegaText = "{m|Ω}{s|z}{m|D/U}{s|max}";
  const rText = "{m|R}{s|uu}";
  const elements: any[] = [
    { type: "rect", z: 0, shape: { x: 6.5, y: 4.5, width: 1323, height: 1560, r: 6 }, style: { fill: "none", stroke: "#cfcfcf", lineWidth: 1 } },
    panelText(91, 49, "A)", letter),
    panelText(718, 49, "B)", letter),
    panelText(76, 491, "C)", letter),
    panelText(71, 914, "D)", letter),
    panelText(153, 744, "Cylinder only;", bold14),
    panelText(439, 749, "Model 1", bold14),
    panelText(439, 771, omegaText, { rich: omegaRich }),
    panelText(690, 749, "Model 2", bold14),
    panelText(690, 768, omegaText, { rich: omegaRich }),
    panelText(941, 747, "Model 3", bold14),
    panelText(941, 766, omegaText, { rich: omegaRich }),
    panelText(1211, 748, "Model 4", bold14),
    panelText(1211, 768, omegaText, { rich: omegaRich }),
    panelText(128, 1167, "Cylinder only", bold14),
    panelText(128, 1188, rText, { rich: rRich }),
    panelText(398, 1167, "Model 1", bold14),
    panelText(398, 1188, rText, { rich: rRich }),
    panelText(629, 1169, "Model 2", bold14),
    panelText(629, 1190, rText, { rich: rRich }),
    panelText(857, 1167, "Model 3", bold14),
    panelText(857, 1188, rText, { rich: rRich }),
    panelText(1109, 1167, "Model 4", bold14),
    panelText(1109, 1188, rText, { rich: rRich }),
    panelText(38, 1271, captionTitle, { fontFamily: SANS, fontWeight: 700, fontSize: 14, fill: "#6a6a6a" }),
  ];
  hatchLines(494, 46, 531, 64, 1).forEach((l) =>
    elements.push({ type: "line", z: 20, shape: { x1: l[0], y1: l[1], x2: l[2], y2: l[3] }, style: { stroke: "#3c3540", lineWidth: 0.8 } })
  );
  captionLines.forEach((t, i) => {
    const capStyle = { fontFamily: SANS, fontSize: CAPTION_SIZES[i], fill: "#5c5c5c" };
    const capRich = {
      b: { ...capStyle, fontWeight: 700 },
      i: { ...capStyle, fontStyle: "italic" },
      s: { ...capStyle, fontStyle: "italic", fontSize: CAPTION_SIZES[i] * 0.72, verticalAlign: "bottom", padding: [8, 0, 0, 0] },
      g: { ...capStyle, width: 6.6 },
    };
    // third line is justified in the source: widen its word gaps
    const text = i === 2 ? t.split(" ").join("{g| }") : t;
    elements.push(panelText(38, 1290 + 24 * i, text, { ...capStyle, rich: capRich }));
  });
  option.graphic = { elements };
  return option;
}

export default function App() {
  const ref = useRef<HTMLDivElement>(null);
  useEffect(() => {
    document.body.style.margin = "0";
    const chart = echarts.init(ref.current!, undefined, { renderer: "svg" });
    chart.setOption(buildOption());
    return () => chart.dispose();
  }, []);
  return <div ref={ref} style={{ width: 1330, height: 1465 }} />;
}
